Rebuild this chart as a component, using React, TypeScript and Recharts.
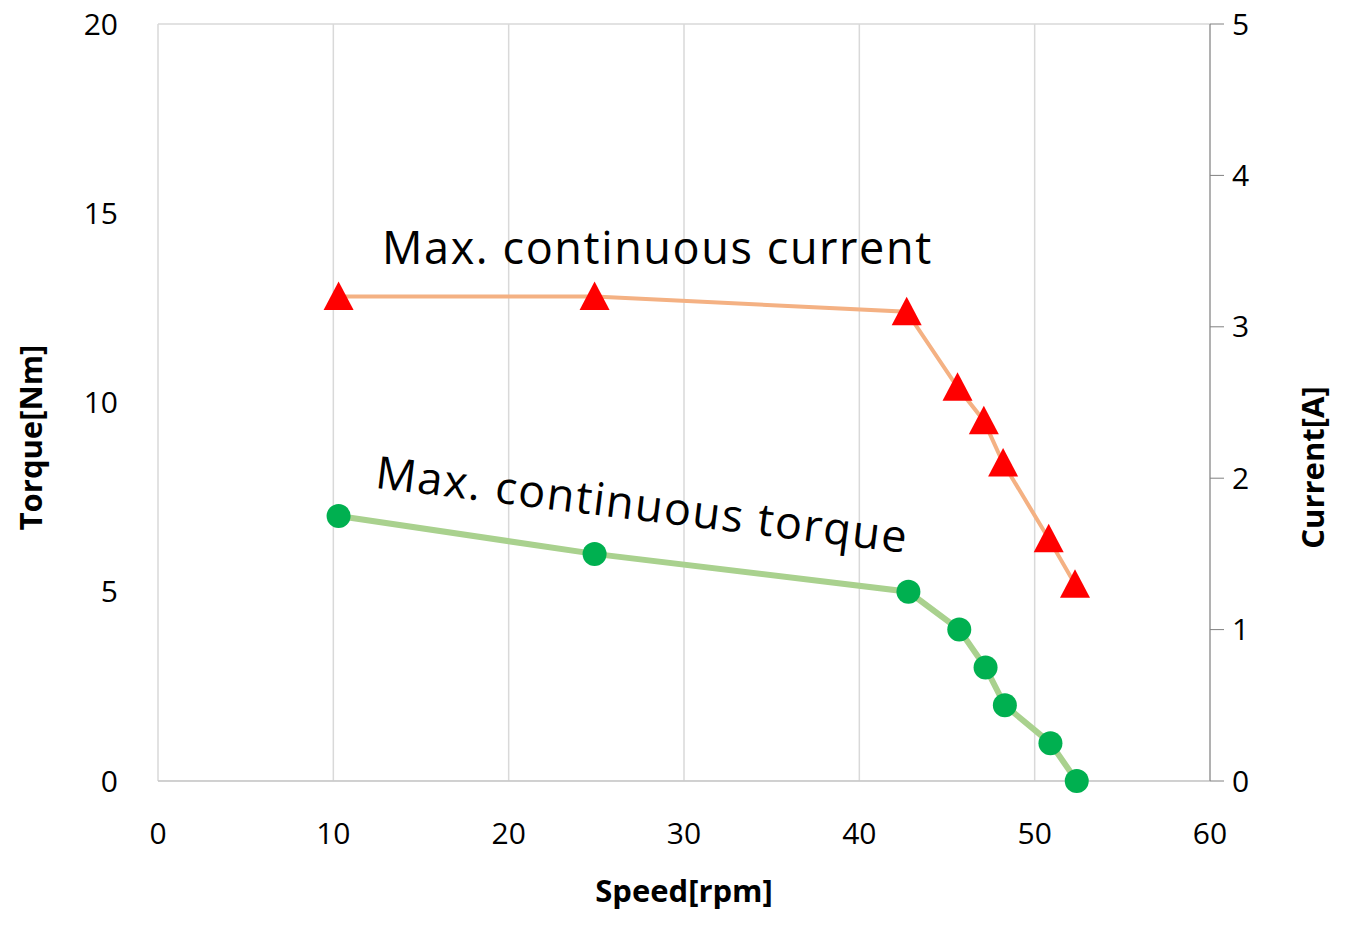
import React from "react";
import { ComposedChart, Line, XAxis, YAxis, CartesianGrid } from "recharts";

const torqueSpeed = [10.3, 24.9, 42.8, 45.7, 47.2, 48.3, 50.9, 52.4];
const torqueValues = [7.0, 6.0, 5.0, 4.0, 3.0, 2.0, 1.0, 0.0];
const currentSpeed = [10.3, 24.9, 42.7, 45.6, 47.1, 48.2, 50.8, 52.3];
const currentValues = [3.2, 3.2, 3.1, 2.6, 2.38, 2.1, 1.6, 1.3];
const xTicks = [0, 10, 20, 30, 40, 50, 60];
const leftTicks = [0, 5, 10, 15, 20];
const rightTicks = [0, 1, 2, 3, 4, 5];

const torqueData = torqueSpeed.map((x, i) => ({ x, y: torqueValues[i] }));
const currentData = currentSpeed.map((x, i) => ({ x, y: currentValues[i] }));

const font = "'Open Sans', sans-serif";
const tickStyle = { fontSize: 30, fill: "#000", fontFamily: font };

const Tri = (p: any) => {
  const { cx, cy } = p;
  if (cx == null) return null;
  const s = 15;
  return <polygon points={`${cx},${cy - s} ${cx + s},${cy + s * 0.9} ${cx - s},${cy + s * 0.9}`} fill="#ff0000" />;
};

export default function App() {
  return (
    <div style={{ position: "absolute", left: 0, top: 0, width: 1354, height: 940, background: "#fff" }}>
      <ComposedChart width={1354} height={940} margin={{ left: 0, right: 0, top: 24, bottom: 0 }}>
        <CartesianGrid stroke="#d9d9d9" strokeWidth={1.5} />
        <XAxis type="number" dataKey="x" domain={[0, 60]} ticks={xTicks} stroke="#bfbfbf" tickLine={false}
          tick={tickStyle} tickMargin={36} height={159}
          label={{ value: "Speed[rpm]", position: "insideTop", dy: 94, style: { fontSize: 31, fontWeight: 700, fill: "#000", fontFamily: font } }} />
        <YAxis yAxisId="left" domain={[0, 20]} ticks={leftTicks} width={158} stroke="#bfbfbf" tickLine={false} axisLine={false}
          tick={tickStyle} tickMargin={34}
          label={{ value: "Torque[Nm]", angle: -90, position: "insideLeft", dx: 26, dy: 35, style: { fontSize: 31, fontWeight: 700, fill: "#000", fontFamily: font, textAnchor: "middle" } }} />
        <YAxis yAxisId="right" orientation="right" domain={[0, 5]} ticks={rightTicks} width={144} stroke="#808080"
          tickSize={14} tick={tickStyle} tickMargin={8}
          label={{ value: "Current[A]", angle: -90, position: "insideRight", dx: -36, dy: 65, style: { fontSize: 31, fontWeight: 700, fill: "#000", fontFamily: font, textAnchor: "middle" } }} />
        <Line yAxisId="left" data={torqueData} dataKey="y" stroke="#a9d18e" strokeWidth={6} isAnimationActive={false}
          dot={{ r: 12, fill: "#00b050", stroke: "none" }} />
        <Line yAxisId="right" data={currentData} dataKey="y" stroke="#f4b183" strokeWidth={4} isAnimationActive={false}
          dot={<Tri />} />
      </ComposedChart>
      <div style={{ position: "absolute", left: 382, top: 216, fontSize: 45, letterSpacing: 1.6, fontFamily: font, color: "#000", whiteSpace: "nowrap" }}>
        Max. continuous current
      </div>
      <div style={{ position: "absolute", left: 380, top: 440, fontSize: 45, letterSpacing: 1.6, fontFamily: font, color: "#000", whiteSpace: "nowrap", transform: "rotate(7deg)", transformOrigin: "left top" }}>
        Max. continuous torque
      </div>
    </div>
  );
}
